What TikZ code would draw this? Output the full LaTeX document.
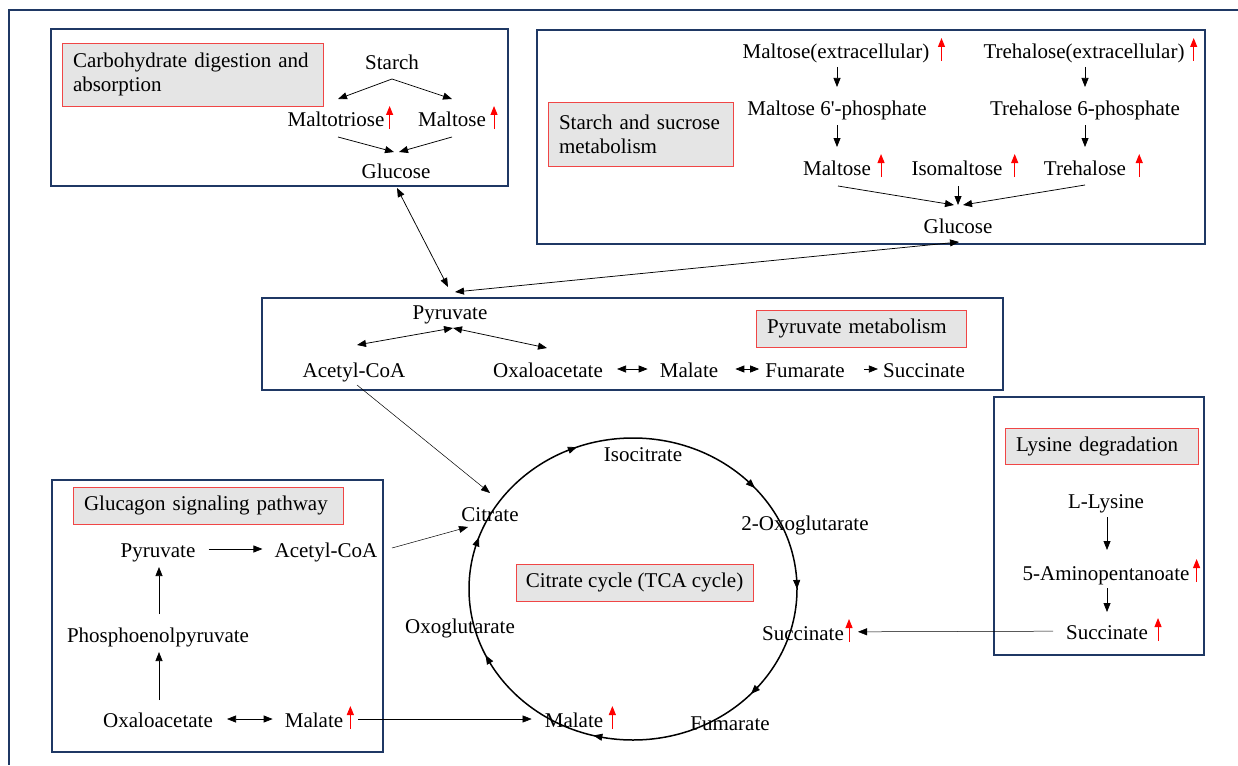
\documentclass[tikz,border=0pt]{standalone}
\usepackage{fontspec}
\setmainfont{Liberation Serif}
\usepackage{xcolor}
\usetikzlibrary{calc,arrows.meta}
\definecolor{panelnavy}{RGB}{31,56,100}
\definecolor{tagred}{RGB}{240,70,70}
\definecolor{taggray}{RGB}{229,229,229}

\begin{document}
\begin{tikzpicture}[
		x=1pt, y=-1pt,
		font=\fontsize{21}{24}\selectfont,
		met/.style={inner sep=2pt, text height=17pt, text depth=1pt},
		tag/.style={draw=tagred, fill=taggray, line width=0.8pt, inner xsep=11pt, inner ysep=0pt, align=left},
		panel/.style={draw=panelnavy, line width=1.6pt},
		flow/.style={line width=0.75pt, -{Triangle[length=9pt,width=7pt]}},
		both/.style={line width=0.75pt, {Triangle[length=9pt,width=7pt]}-{Triangle[length=9pt,width=7pt]}},
		upreg/.style={draw=red, line width=1pt, -{Triangle[length=9pt,width=7pt]}}
		]
		\useasboundingbox (0,0) rectangle (1238,765);
		
		% ===== outer frame and panels =====
		\draw[panel] (1238,10) -- (9,10) -- (9,765);
		\draw[panel] (51,29) rectangle (508,186);
		\draw[panel] (537,30) rectangle (1205,244);
		\draw[panel] (262,298) rectangle (1003,390);
		\draw[panel] (52,480) rectangle (383,752);
		\draw[panel] (994,397) rectangle (1204,655);
		
		% ===== pathway labels =====
		\node[tag, text width=239pt, minimum height=63pt] (tCarb) at (192.5,74.5) {Carbohydrate digestion and\\absorption};
		\node[tag, text width=163pt, minimum height=64pt] (tStar) at (640.5,134) {Starch and sucrose\\metabolism};
		\node[tag, text width=188pt, minimum height=37pt] (tPyr) at (861,328.5) {Pyruvate metabolism};
		\node[tag, inner xsep=0pt, align=center, minimum width=237pt, minimum height=37pt] (tTca) at (634.5,582.5) {Citrate cycle (TCA cycle)};
		\node[tag, text width=248pt, minimum height=37pt] (tGlu) at (208,505.5) {Glucagon signaling pathway};
		\node[tag, text width=171pt, minimum height=36pt] (tLys) at (1101.5,446) {Lysine degradation};
		
		% ===== carbohydrate digestion =====
		\node[met] (starch) at (392,62) {Starch};
		\node[met] (mtri) at (336,119) {Maltotriose};
		\node[met] (maltA) at (452,119) {Maltose};
		\node[met] (gluA) at (396,170) {Glucose};
		\draw[flow] ($(starch)+(0,17)$) -- ($(mtri)+(2,-20)$);
		\draw[flow] ($(starch)+(0,17)$) -- ($(maltA)+(0,-20)$);
		\draw[flow] ($(mtri)+(2,18)$) -- ($(gluA)+(-2,-18)$);
		\draw[flow] ($(maltA)+(0,18)$) -- ($(gluA)+(3,-18)$);
		
		% ===== starch and sucrose =====
		\node[met] (maltex) at (836,51) {Maltose(extracellular)};
		\node[met] (trehex) at (1084,51) {Trehalose(extracellular)};
		\node[met] (malp) at (837,108) {Maltose 6\textquotesingle-phosphate};
		\node[met] (trehp) at (1085,108) {Trehalose 6-phosphate};
		\node[met] (maltB) at (837,167) {Maltose};
		\node[met] (isom) at (957,167) {Isomaltose};
		\node[met] (treh) at (1085,167) {Trehalose};
		\node[met] (gluB) at (958,225) {Glucose};
		\draw[flow] ($(maltex)+(1,16)$) -- ($(malp)+(0,-21)$);
		\draw[flow] ($(trehex)+(1,16)$) -- ($(trehp)+(0,-21)$);
		\draw[flow] ($(malp)+(0,17)$) -- ($(maltB)+(0,-20)$);
		\draw[flow] ($(trehp)+(0,17)$) -- ($(treh)+(0,-20)$);
		\draw[flow] ($(maltB)+(1,19)$) -- ($(gluB)+(-4,-20)$);
		\draw[flow] ($(isom)+(1,19)$) -- ($(gluB)+(0,-20)$);
		\draw[flow] ($(treh)+(0,18)$) -- ($(gluB)+(5,-20)$);
		
		% ===== pyruvate metabolism =====
		\node[met] (pyrA) at (450,311) {Pyruvate};
		\node[met] (acoA) at (354,369) {Acetyl-CoA};
		\node[met] (oaaA) at (548,369) {Oxaloacetate};
		\node[met] (malA) at (689,369) {Malate};
		\node[met] (fumA) at (805,369) {Fumarate};
		\node[met] (sucA) at (924,369) {Succinate};
		\draw[both] ($(gluA)+(1,18)$) -- ($(pyrA)+(-2,-24)$);
		\draw[both] ($(pyrA)+(5,-19)$) -- ($(gluB)+(1,17)$);
		\draw[both] ($(pyrA)+(3,17)$) -- ($(acoA)+(3,-24)$);
		\draw[both] ($(pyrA)+(3,17)$) -- ($(oaaA)+(-1,-21)$);
		\draw[both, shorten <=12pt, shorten >=10pt] (oaaA) -- (malA);
		\draw[both, shorten <=15pt, shorten >=4pt] (malA) -- (fumA);
		\draw[flow, shorten <=17pt, shorten >=3pt] (fumA) -- (sucA);
		
		% ===== citrate cycle =====
		\coordinate (tca) at (633,589);
		\draw[line width=1.5pt] (tca) ellipse [x radius=164pt, y radius=151pt];
		\foreach \a in {110,42,0,-44,-104,206,160}{
			\draw[flow, shift={(tca)}] (\a+4:164pt and 151pt) -- (\a:164pt and 151pt);
		}
		\node[met] (isoc) at (643,453) {Isocitrate};
		\node[met] (cit) at (490,513) {Citrate};
		\node[met] (oxog) at (805,522) {2-Oxoglutarate};
		\node[met] (sucT) at (803,632) {Succinate};
		\node[met] (fumT) at (730,722) {Fumarate};
		\node[met] (malT) at (574,719) {Malate};
		\node[met] (oxoT) at (460,625) {Oxoglutarate};
		\draw[flow, line width=0.5pt] ($(acoA)+(3,16)$) -- ($(cit)+(0,-20)$);
		
		% ===== glucagon signaling =====
		\node[met] (pyrG) at (158,549) {Pyruvate};
		\node[met] (acoG) at (326,549) {Acetyl-CoA};
		\node[met] (pep) at (158,634) {Phosphoenolpyruvate};
		\node[met] (oaaG) at (158,719) {Oxaloacetate};
		\node[met] (malG) at (314,719) {Malate};
		\draw[flow, shorten <=11pt, shorten >=10pt] (pyrG) -- (acoG);
		\draw[flow] ($(pep)+(1,-20)$) -- ($(pyrG)+(1,18)$);
		\draw[flow] ($(oaaG)+(1,-19)$) -- ($(pep)+(1,18)$);
		\draw[both, shorten <=12pt, shorten >=10pt] (oaaG) -- (malG);
		\draw[flow, line width=0.5pt] ($(acoG)+(66,-1)$) -- ($(cit)+(-22,14)$);
		\draw[flow, line width=0.5pt, shorten <=13pt, shorten >=11pt] (malG) -- (malT);
		
		% ===== lysine degradation =====
		\node[met] (lys) at (1106,500) {L-Lysine};
		\node[met] (amino) at (1106,572) {5-Aminopentanoate};
		\node[met] (sucL) at (1107,631) {Succinate};
		\draw[flow] ($(lys)+(1,17)$) -- ($(amino)+(1,-22)$);
		\draw[flow] ($(amino)+(1,16)$) -- ($(sucL)+(0,-19)$);
		\draw[flow, line width=0.5pt, shorten <=11pt, shorten >=12pt] (sucL) -- (sucT);
		
		% ===== red up arrows =====
		\foreach \nd/\d in {mtri/3, maltA/6, maltex/10, trehex/7, maltB/8, isom/10, treh/11, sucT/3, malT/7, malG/5, amino/5, sucL/8}{
			\draw[upreg] ($(\nd.east)+(\d,10)$) -- ++(0,-23);
		}
		
	\end{tikzpicture}
\end{document}
